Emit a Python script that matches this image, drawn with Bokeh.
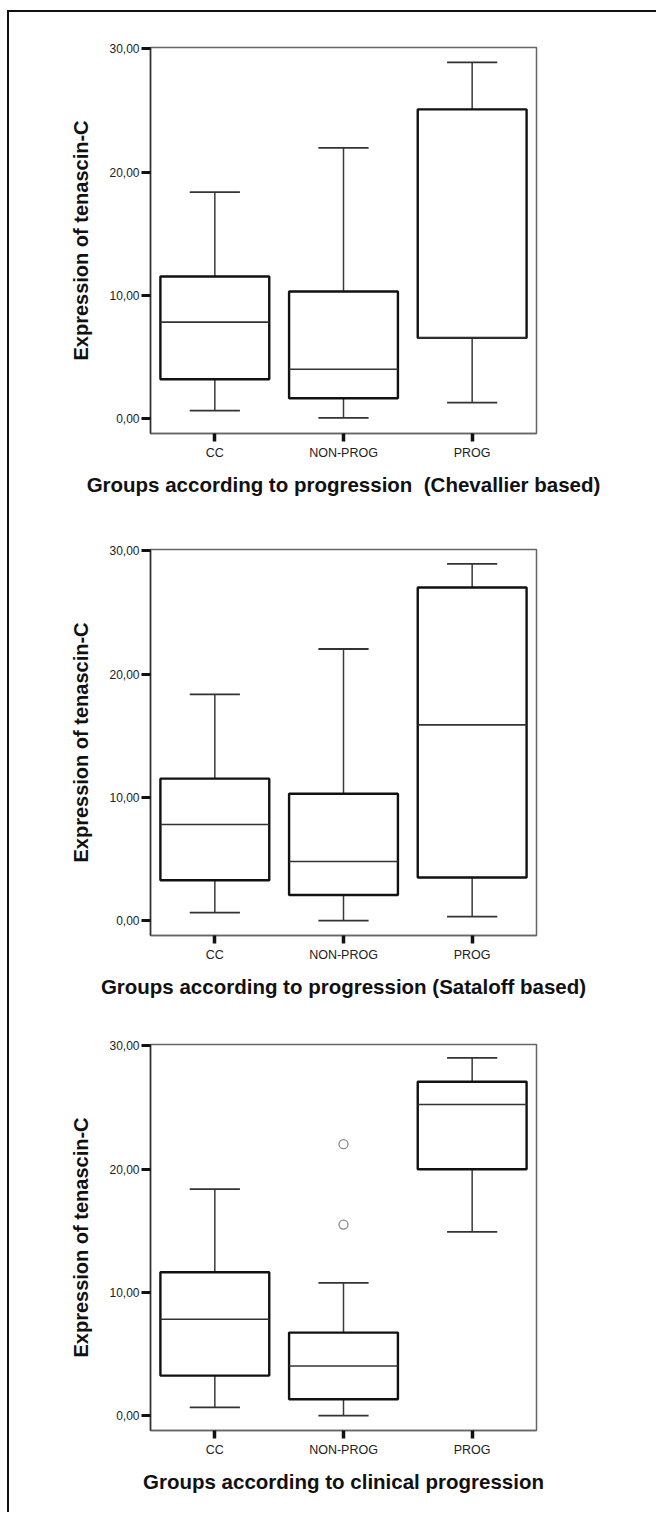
from bokeh.plotting import figure
from bokeh.layouts import column
from bokeh.models import Range1d, FactorRange, FixedTicker, ColumnDataSource
from bokeh.transform import dodge
from bokeh.embed import file_html
from bokeh.resources import INLINE

groups = ["CC", "NON-PROG", "PROG"]
ytick_values = [0, 10, 20, 30]
ytick_labels = ["0,00", "10,00", "20,00", "30,00"]
y_title = "Expression of tenascin-C"

# Panel 1 (Chevallier based)
p1_low = [0.66, 0.06, 1.31]
p1_q1 = [3.20, 1.66, 6.55]
p1_med = [7.83, 4.01, 6.55]
p1_q3 = [11.53, 10.31, 25.08]
p1_high = [18.37, 21.96, 28.89]
p1_title = "Groups according to progression\u00a0 (Chevallier based)"

# Panel 2 (Sataloff based)
p2_low = [0.65, 0.00, 0.33]
p2_q1 = [3.28, 2.09, 3.50]
p2_med = [7.80, 4.80, 15.88]
p2_q3 = [11.52, 10.30, 27.02]
p2_high = [18.35, 22.03, 28.94]
p2_title = "Groups according to progression (Sataloff based)"

# Panel 3 (clinical progression)
p3_low = [0.68, 0.00, 14.90]
p3_q1 = [3.25, 1.33, 19.99]
p3_med = [7.82, 4.03, 25.24]
p3_q3 = [11.63, 6.74, 27.08]
p3_high = [18.37, 10.77, 29.02]
p3_out_group = ["NON-PROG", "NON-PROG"]
p3_out_value = [22.02, 15.50]
p3_title = "Groups according to clinical progression"

FONT = "Liberation Sans"
FRAME_H = 386
TOP = 35


def make_panel(lo, q1, md, q3, hi, xlabel, height, out_g=None, out_v=None):
    p = figure(x_range=FactorRange(*groups, range_padding=0),
               y_range=Range1d(-1.2, 30.1),
               width=636, height=height,
               output_backend="svg", toolbar_location=None,
               min_border_left=141, min_border_right=109,
               min_border_top=TOP, min_border_bottom=height - TOP - FRAME_H)
    p.background_fill_color = "white"
    p.border_fill_color = "white"
    p.outline_line_color = "#666666"
    p.outline_line_width = 1.5
    p.xgrid.grid_line_color = None
    p.ygrid.grid_line_color = None

    src = ColumnDataSource(dict(g=groups, lo=lo, q1=q1, md=md, q3=q3, hi=hi))
    wc = "#3a3a3a"
    p.segment(x0="g", y0="q3", x1="g", y1="hi", source=src, line_color=wc, line_width=1.5)
    p.segment(x0="g", y0="lo", x1="g", y1="q1", source=src, line_color=wc, line_width=1.5)
    p.vbar(x="g", bottom="q1", top="q3", width=0.846, source=src,
           fill_color="white", line_color="#111111", line_width=2.4)
    p.segment(x0=dodge("g", -0.423, range=p.x_range), y0="md",
              x1=dodge("g", 0.423, range=p.x_range), y1="md",
              source=src, line_color="#333333", line_width=1.6)
    for col in ("hi", "lo"):
        p.segment(x0=dodge("g", -0.195, range=p.x_range), y0=col,
                  x1=dodge("g", 0.195, range=p.x_range), y1=col,
                  source=src, line_color="#333333", line_width=1.8)
    if out_g:
        p.scatter(x=out_g, y=out_v, marker="circle", size=9, fill_color=None,
                  line_color="#8a8a8a", line_width=1.3)

    ya = p.yaxis[0]
    ya.ticker = FixedTicker(ticks=ytick_values)
    ya.major_label_overrides = {float(v): l for v, l in zip(ytick_values, ytick_labels)}
    ya.major_tick_in = 0
    ya.major_tick_out = 9
    ya.major_tick_line_width = 3
    ya.major_tick_line_color = "#111111"
    ya.minor_tick_line_color = None
    ya.axis_line_color = "#333333"
    ya.axis_line_width = 1.5
    ya.major_label_standoff = 2
    ya.major_label_text_font = FONT
    ya.major_label_text_font_size = "12px"
    ya.major_label_text_color = "#222222"
    ya.axis_label = y_title
    ya.axis_label_text_font = FONT
    ya.axis_label_text_font_style = "bold"
    ya.axis_label_text_font_size = "20px"
    ya.axis_label_text_color = "#111111"
    ya.axis_label_standoff = 14

    xa = p.xaxis[0]
    xa.major_tick_in = 0
    xa.major_tick_out = 8
    xa.major_tick_line_width = 3.5
    xa.major_tick_line_color = "#111111"
    xa.minor_tick_line_color = None
    xa.axis_line_color = "#666666"
    xa.axis_line_width = 1.5
    xa.major_label_standoff = 4
    xa.major_label_text_font = FONT
    xa.major_label_text_font_size = "12.5px"
    xa.major_label_text_color = "#222222"
    xa.axis_label = xlabel
    xa.axis_label_text_font = FONT
    xa.axis_label_text_font_style = "bold"
    xa.axis_label_text_font_size = "20.5px"
    xa.axis_label_text_color = "#111111"
    xa.axis_label_standoff = 10
    return p


p1 = make_panel(p1_low, p1_q1, p1_med, p1_q3, p1_high, p1_title, 502)
p2 = make_panel(p2_low, p2_q1, p2_med, p2_q3, p2_high, p2_title, 495)
p3 = make_panel(p3_low, p3_q1, p3_med, p3_q3, p3_high, p3_title, 503,
                p3_out_group, p3_out_value)

layout = column(p1, p2, p3, spacing=0,
                styles={"margin-left": "7px", "margin-top": "10px",
                        "min-width": "649px",
                        "border-left": "2px solid #111111",
                        "border-top": "2px solid #111111",
                        "border-right": "none", "border-bottom": "none"})

open("out.html", "w").write(file_html(layout, INLINE))
